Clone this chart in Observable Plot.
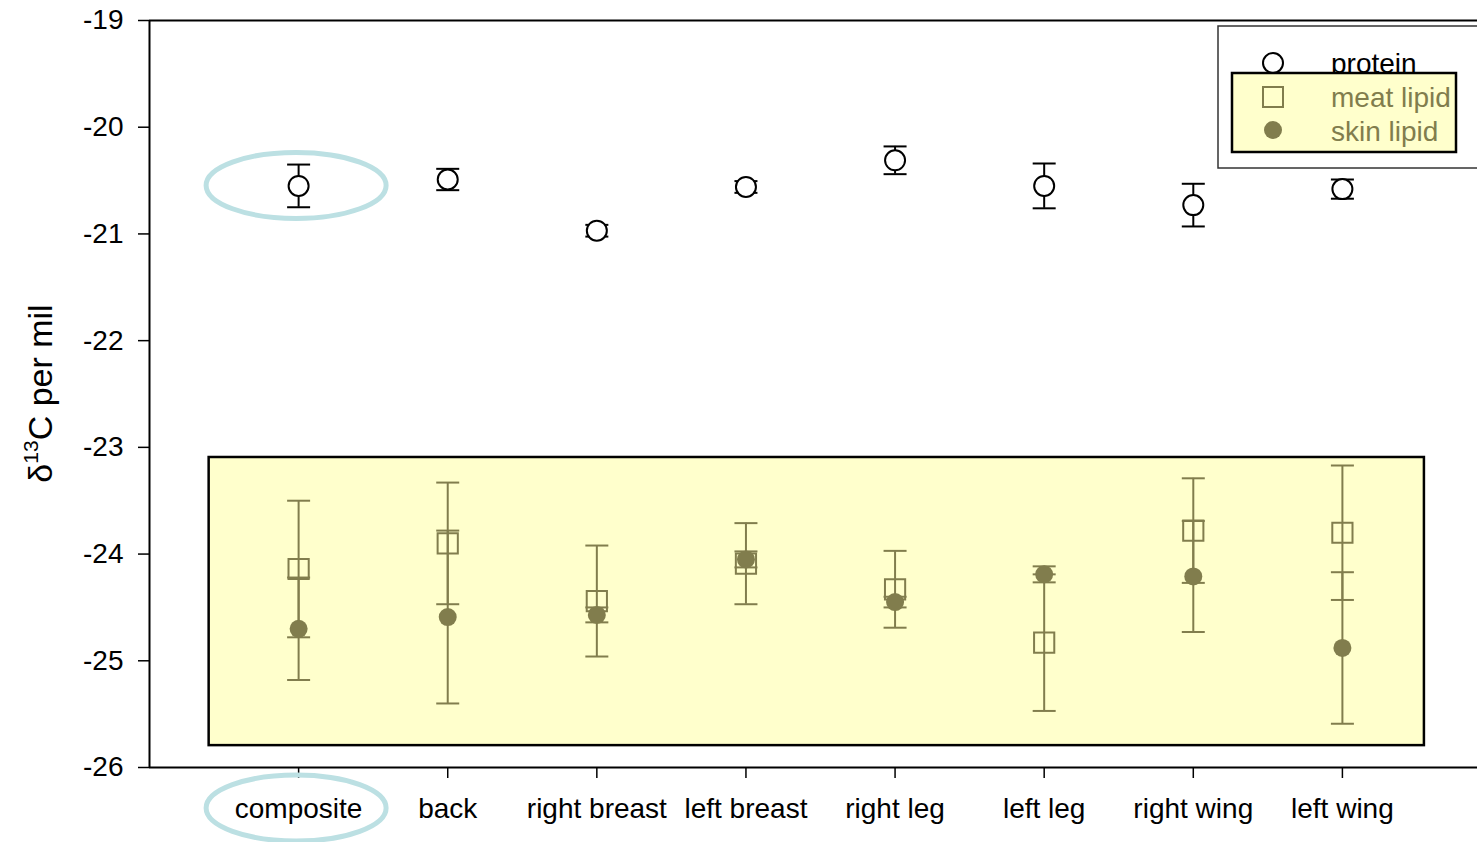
<!DOCTYPE html>
<html>
<head>
<meta charset="utf-8">
<script src="https://cdn.jsdelivr.net/npm/d3@7"></script>
<script src="https://cdn.jsdelivr.net/npm/@observablehq/plot@0.6"></script>
<style>
  html, body { margin: 0; padding: 0; background: #ffffff; }
  #chart svg { display: block; }
</style>
</head>
<body>
<div id="chart"></div>
<script>
// ---- data ----
const categories = ["composite", "back", "right breast", "left breast", "right leg", "left leg", "right wing", "left wing"];
const proteinMean = [-20.55, -20.49, -20.97, -20.56, -20.31, -20.55, -20.73, -20.58];
const proteinErr  = [0.20, 0.10, 0.055, 0.055, 0.13, 0.21, 0.20, 0.09];
const meatMean    = [-24.14, -23.90, -24.44, -24.09, -24.33, -24.83, -23.78, -23.80];
const meatErr     = [0.64, 0.57, 0.52, 0.38, 0.36, 0.64, 0.49, 0.63];
const skinMean    = [-24.70, -24.59, -24.57, -24.05, -24.45, -24.19, -24.21, -24.88];
const skinErr     = [0.48, 0.81, 0.07, 0.075, 0.05, 0.075, 0.52, 0.71];
const yTicks      = [-26, -25, -24, -23, -22, -21, -20, -19];
const seriesNames = ["protein", "meat lipid", "skin lipid"];
const yLabel      = ["δ", "13", "C per mil"];
// highlighted lipid region (in data units: category index, δ13C)
const lipidBox    = [{x1: -0.60, x2: 7.55, y1: -23.095, y2: -25.795}];

// ---- styles ----
const olive = "#817d4d";
const font = "'Liberation Sans', Arial, Helvetica, sans-serif";

const rows = (mean, err) => categories.map((c, i) => ({i, c, mean: mean[i], lo: mean[i] - err[i], hi: mean[i] + err[i]}));
const protein = rows(proteinMean, proteinErr);
const meat = rows(meatMean, meatErr);
const skin = rows(skinMean, skinErr);

// horizontal-line symbol for error-bar caps
const cap = {draw(ctx, size) { const w = Math.sqrt(size / Math.PI); ctx.moveTo(-w, 0); ctx.lineTo(w, 0); }};

const errMarks = (data, color, capR) => [
  Plot.ruleX(data, {x: "i", y1: "lo", y2: "hi", stroke: color, strokeWidth: 2}),
  Plot.dot(data, {x: "i", y: "lo", symbol: cap, r: capR, stroke: color, strokeWidth: 2}),
  Plot.dot(data, {x: "i", y: "hi", symbol: cap, r: capR, stroke: color, strokeWidth: 2})
];

const chart = Plot.plot({
  width: 1477,
  height: 842,
  marginTop: 20,
  marginBottom: 75,
  marginLeft: 149,
  marginRight: 0,
  style: {fontFamily: font, background: "#ffffff", color: "#000"},
  x: {type: "linear", domain: [-1, 7.906]},
  y: {domain: [-26, -19]},
  marks: [
    Plot.rect(lipidBox, {x1: "x1", x2: "x2", y1: "y1", y2: "y2", fill: "#ffffcc", stroke: "#000", strokeWidth: 2.5}),
    Plot.ruleY([-19, -26], {stroke: "#000", strokeWidth: 2}),
    Plot.ruleX([-1], {stroke: "#000", strokeWidth: 2}),
    Plot.axisY({ticks: yTicks, tickFormat: d => String(d), tickSize: 11, tickPadding: 15, fontSize: 28, label: null, strokeWidth: 1.5}),
    Plot.axisX({ticks: d3.range(categories.length), tickFormat: i => categories[i], tickSize: 11, tickPadding: 20, fontSize: 28, label: null, strokeWidth: 1.5}),
    // protein
    ...errMarks(protein, "#000", 11.5),
    Plot.dot(protein, {x: "i", y: "mean", r: 10, fill: "#fff", stroke: "#000", strokeWidth: 2}),
    // meat lipid
    ...errMarks(meat, olive, 11.5),
    Plot.dot(meat, {x: "i", y: "mean", symbol: "square", r: 11.4, fill: "none", stroke: olive, strokeWidth: 2}),
    // skin lipid
    ...errMarks(skin, olive, 11.5),
    Plot.dot(skin, {x: "i", y: "mean", r: 9, fill: olive, stroke: "none"})
  ]
});

document.getElementById("chart").appendChild(chart);

const svg = d3.select(chart);
const xs = chart.scale("x"), ys = chart.scale("y");

// y-axis label with superscript
const lab = svg.append("text")
  .attr("transform", `translate(52,${(ys.apply(-26) + ys.apply(-19)) / 2}) rotate(-90)`)
  .attr("text-anchor", "middle")
  .attr("font-family", font)
  .attr("font-size", 34)
  .attr("fill", "#000");
lab.append("tspan").text(yLabel[0]);
lab.append("tspan").attr("font-size", 21).attr("dy", -14).text(yLabel[1]);
lab.append("tspan").attr("dy", 14).text(yLabel[2]);

// highlight ellipses around the composite value and label
const hl = "#bce0e3";
svg.append("ellipse")
  .attr("cx", xs.apply(0) - 2).attr("cy", ys.apply(proteinMean[0]))
  .attr("rx", 90).attr("ry", 33)
  .attr("fill", "none").attr("stroke", hl).attr("stroke-width", 5);
svg.append("ellipse")
  .attr("cx", xs.apply(0) - 2).attr("cy", ys.apply(-26) + 41)
  .attr("rx", 90).attr("ry", 33)
  .attr("fill", "none").attr("stroke", hl).attr("stroke-width", 5);

// legend
const lg = svg.append("g").attr("font-family", font).attr("font-size", 28).attr("text-anchor", "start");
lg.append("rect").attr("x", 1218).attr("y", 26).attr("width", 280).attr("height", 142)
  .attr("fill", "#fff").attr("stroke", "#333").attr("stroke-width", 1.5);
lg.append("circle").attr("cx", 1273).attr("cy", 63).attr("r", 10)
  .attr("fill", "#fff").attr("stroke", "#000").attr("stroke-width", 2);
lg.append("text").attr("x", 1331).attr("y", 63).attr("dy", "0.35em").attr("fill", "#000").text(seriesNames[0]);
lg.append("rect").attr("x", 1232).attr("y", 73).attr("width", 224).attr("height", 79)
  .attr("fill", "#ffffcc").attr("stroke", "#000").attr("stroke-width", 2.5);
lg.append("rect").attr("x", 1263).attr("y", 87).attr("width", 20).attr("height", 20)
  .attr("fill", "none").attr("stroke", olive).attr("stroke-width", 2);
lg.append("text").attr("x", 1331).attr("y", 97).attr("dy", "0.35em").attr("fill", olive).text(seriesNames[1]);
lg.append("circle").attr("cx", 1273).attr("cy", 130).attr("r", 9).attr("fill", olive);
lg.append("text").attr("x", 1331).attr("y", 131).attr("dy", "0.35em").attr("fill", olive).text(seriesNames[2]);
</script>
</body>
</html>
